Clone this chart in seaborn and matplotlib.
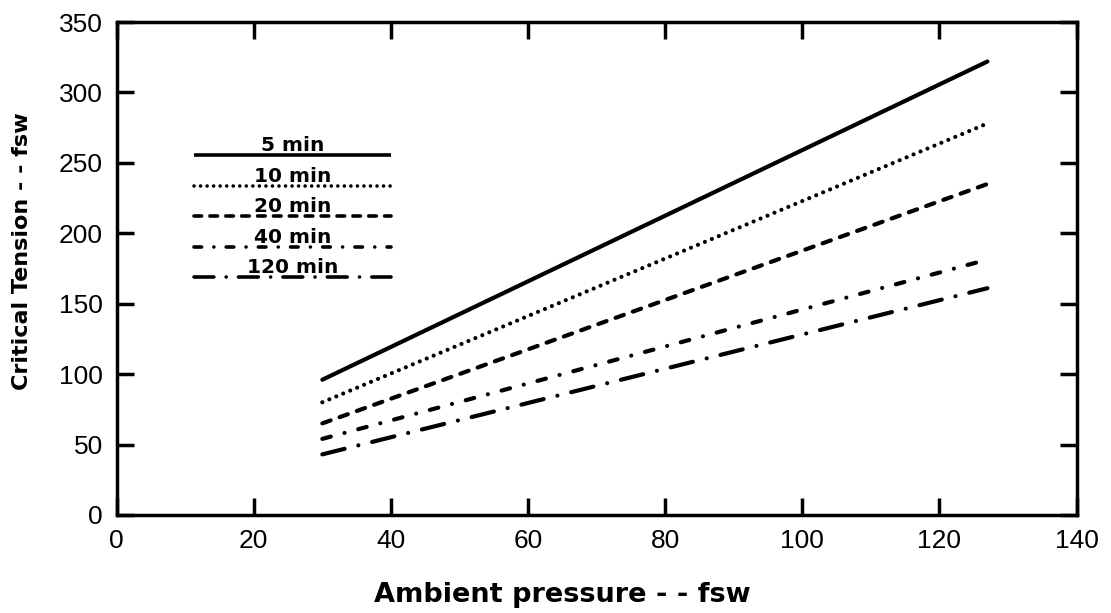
import matplotlib
matplotlib.use("Agg")
import matplotlib.pyplot as plt
import seaborn as sns
import pandas as pd
from matplotlib.lines import Line2D

# ---- data ----
durations = ["5 min", "10 min", "20 min", "40 min", "120 min"]
pressure_start = [30, 30, 30, 30, 30]
pressure_end = [127, 127, 127, 126, 127]
tension_start = [96, 80, 65, 54, 43]
tension_end = [322, 278, 235, 180, 161]

x_ticks = [0, 20, 40, 60, 80, 100, 120, 140]
y_ticks = [0, 50, 100, 150, 200, 250, 300, 350]

# dash patterns (in line-width units, round caps)
dash_styles = {
    "5 min": "",
    "10 min": (0.01, 1.8),
    "20 min": (2.1, 2.3),
    "40 min": (2.1, 3.4, 0.01, 3.4),
    "120 min": (5.5, 3.4, 0.01, 3.4),
}

rows = []
for d, x0, x1, y0, y1 in zip(durations, pressure_start, pressure_end, tension_start, tension_end):
    rows.append({"pressure": x0, "tension": y0, "duration": d})
    rows.append({"pressure": x1, "tension": y1, "duration": d})
df = pd.DataFrame(rows)

sns.set_theme(style="ticks")
plt.rcParams["font.family"] = ["Liberation Sans", "DejaVu Sans"]
plt.rcParams["text.color"] = "black"
plt.rcParams["axes.labelcolor"] = "black"

fig = plt.figure(figsize=(11.11, 6.13), dpi=100)
ax = fig.add_axes([0.105, 0.160, 0.864, 0.804])

LW = 3.0
sns.lineplot(data=df, x="pressure", y="tension", style="duration",
             style_order=durations, dashes=dash_styles, color="black",
             linewidth=LW, legend=False, ax=ax, estimator=None, sort=False)
for ln in ax.lines:
    ln.set_dash_capstyle("round")
    ln.set_solid_capstyle("round")

ax.set_xlim(0, 140)
ax.set_ylim(0, 350)
ax.set_xticks(x_ticks)
ax.set_yticks(y_ticks)
ax.tick_params(direction="in", length=12, width=2.5, top=True, right=True,
               labelsize=19, pad=10, colors="black")
for sp in ax.spines.values():
    sp.set_visible(True)
    sp.set_linewidth(2.5)
    sp.set_color("black")

ax.set_xlabel("Ambient pressure - - fsw", fontsize=19.5, fontweight="bold",
              family="DejaVu Sans", va="center", color="black")
ax.xaxis.set_label_coords(0.464, -0.162)
ax.set_ylabel("Critical Tension - - fsw", fontsize=16, fontweight="bold",
              family="DejaVu Sans", va="center", color="black")
ax.yaxis.set_label_coords(-0.099, 0.535)

# manual in-plot legend: label text sitting on top of each line sample
lx0, lx1, ltop, lstep = 0.081, 0.286, 0.730, 0.062
for i, d in enumerate(durations):
    yy = ltop - i * lstep
    h = Line2D([lx0, lx1], [yy, yy], transform=ax.transAxes, color="black",
               linewidth=2.6, solid_capstyle="butt")
    if dash_styles[d]:
        h.set_dashes(dash_styles[d])
        h.set_dash_capstyle("round")
    ax.add_line(h)
    ax.text((lx0 + lx1) / 2, yy + 0.0, d, transform=ax.transAxes,
            ha="center", va="bottom", fontsize=14.5, fontweight="bold",
            family="DejaVu Sans", color="black")

fig.savefig("out.png", dpi=100)
